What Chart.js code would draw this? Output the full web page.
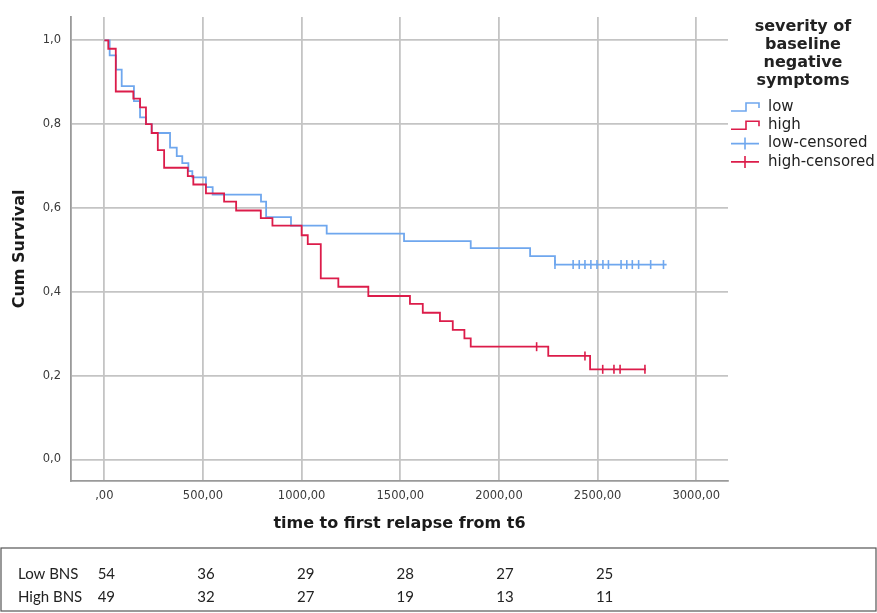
<!DOCTYPE html>
<html>
<head>
<meta charset="utf-8">
<script src="https://cdn.jsdelivr.net/npm/chart.js"></script>
<style>
  html, body { margin: 0; padding: 0; background: #fff; }
</style>
</head>
<body>
<canvas id="km" width="877" height="613"></canvas>
<script>
// Kaplan-Meier estimates
const lowTimes = [0, 27, 59, 88, 150, 181, 211, 240, 333, 367, 395, 426, 446, 515, 549, 794, 820, 946, 1127, 1519, 1857, 2158, 2284, 2850];
const lowSurv  = [1, .964, .930, .891, .855, .816, .800, .779, .744, .724, .707, .688, .673, .650, .632, .615, .578, .558, .539, .521, .504, .485, .465, .465];
const lowCensorTimes = [2284, 2376, 2407, 2436, 2466, 2497, 2527, 2555, 2619, 2648, 2676, 2708, 2769, 2834];
const lowCensorSurv  = [.465, .465, .465, .465, .465, .465, .465, .465, .465, .465, .465, .465, .465, .465];

const highTimes = [0, 20, 58, 147, 181, 211, 240, 271, 303, 423, 451, 515, 607, 668, 793, 852, 1000, 1031, 1097, 1186, 1338, 1549, 1614, 1701, 1766, 1825, 1857, 2250, 2462, 2745];
const highSurv  = [1, .980, .878, .861, .840, .800, .779, .738, .696, .676, .656, .635, .615, .594, .576, .558, .535, .514, .432, .412, .390, .371, .350, .330, .309, .289, .269, .247, .215, .215];
const highCensorTimes = [2191, 2436, 2526, 2583, 2614, 2740];
const highCensorSurv  = [.269, .247, .215, .215, .215, .215];

const xTickValues = [0, 500, 1000, 1500, 2000, 2500, 3000];
const yTickValues = [0, 0.2, 0.4, 0.6, 0.8, 1.0];

// numbers at risk
const riskTimes = [0, 500, 1000, 1500, 2000, 2500];
const riskLow  = [54, 36, 29, 28, 27, 25];
const riskHigh = [49, 32, 27, 19, 13, 11];

const legendTitle = ['severity of', 'baseline', 'negative', 'symptoms'];
const legendOrder = ['low', 'high', 'low-censored', 'high-censored'];

const BLUE = '#6fa7ee';
const RED = '#dc1c4a';
const GRID = '#c4c4c4';
const AXIS = '#9a9a9a';
const FONT = '"DejaVu Sans", sans-serif';

const pts = (xs, ys) => xs.map((t, i) => ({ x: t, y: ys[i] }));
const comma = (v, d) => v.toFixed(d).replace('.', ',');

const kmExtras = {
  id: 'kmExtras',
  afterDraw(chart) {
    const ctx = chart.ctx;
    ctx.save();

    // legend title
    ctx.fillStyle = '#222';
    ctx.textAlign = 'center';
    ctx.textBaseline = 'middle';
    ctx.font = 'bold 16px ' + FONT;
    legendTitle.forEach((line, i) => ctx.fillText(line, 803, 27 + i * 18));

    // legend entries
    ctx.font = '15px ' + FONT;
    ctx.textAlign = 'left';
    legendOrder.forEach((name, i) => {
      const ds = chart.data.datasets.find(d => d.label === name);
      const y = 107 + i * 18.3;
      ctx.strokeStyle = ds.borderColor || ds.pointBorderColor;
      ctx.lineWidth = 1.6;
      ctx.beginPath();
      if (ds.showLine === false) {
        ctx.moveTo(731, y); ctx.lineTo(759, y);
        ctx.moveTo(745, y - 6); ctx.lineTo(745, y + 6);
      } else {
        ctx.moveTo(731, y + 4); ctx.lineTo(746, y + 4); ctx.lineTo(746, y - 4);
        ctx.lineTo(759, y - 4); ctx.lineTo(759, y + 1);
      }
      ctx.stroke();
      ctx.fillStyle = '#222';
      ctx.fillText(name, 768, y);
    });

    // numbers-at-risk table
    ctx.strokeStyle = '#555';
    ctx.lineWidth = 1.2;
    ctx.strokeRect(1, 548, 875, 63);
    ctx.fillStyle = '#222';
    ctx.font = '15px Lato, sans-serif';
    ctx.textAlign = 'left';
    ctx.fillText('Low BNS', 18, 574);
    ctx.fillText('High BNS', 18, 597);
    ctx.textAlign = 'center';
    const xs = chart.scales.x;
    riskTimes.forEach((t, i) => {
      const px = xs.getPixelForValue(t) + 2 + i;
      ctx.fillText(String(riskLow[i]), px, 574);
      ctx.fillText(String(riskHigh[i]), px, 597);
    });
    ctx.restore();
  }
};

new Chart(document.getElementById('km').getContext('2d'), {
  type: 'line',
  data: {
    datasets: [
      {
        label: 'high', data: pts(highTimes, highSurv), stepped: true,
        borderColor: RED, borderWidth: 1.8, pointRadius: 0, fill: false, order: 1
      },
      {
        label: 'low', data: pts(lowTimes, lowSurv), stepped: true,
        borderColor: BLUE, borderWidth: 1.8, pointRadius: 0, fill: false, order: 2
      },
      {
        label: 'high-censored', data: pts(highCensorTimes, highCensorSurv), showLine: false,
        pointStyle: 'line', pointRotation: 90, pointRadius: 4.5, pointBorderWidth: 1.6,
        pointBorderColor: RED, borderColor: RED, order: 1
      },
      {
        label: 'low-censored', data: pts(lowCensorTimes, lowCensorSurv), showLine: false,
        pointStyle: 'line', pointRotation: 90, pointRadius: 4.5, pointBorderWidth: 1.6,
        pointBorderColor: BLUE, borderColor: BLUE, order: 2
      }
    ]
  },
  options: {
    responsive: false,
    animation: false,
    layout: { padding: { left: 0, right: 149, top: 8, bottom: 72 } },
    plugins: {
      legend: { display: false },
      tooltip: { enabled: false }
    },
    scales: {
      x: {
        type: 'linear', min: -169, max: 3161,
        afterBuildTicks: s => { s.ticks = xTickValues.map(v => ({ value: v })); },
        afterFit: s => { s.height = 60; },
        grid: { color: GRID, lineWidth: 1.8, drawTicks: false },
        border: { color: AXIS, width: 1.8 },
        ticks: {
          padding: 8, color: '#3a3a3a', maxRotation: 0,
          font: { family: FONT, size: 11.5 },
          callback: v => comma(v, 2).replace(/^0,/, ',')
        },
        title: {
          display: true, text: 'time to first relapse from t6', color: '#1a1a1a',
          font: { family: FONT, size: 16, weight: 'bold' }, padding: { top: 0, bottom: 8 }
        }
      },
      y: {
        type: 'linear', min: -0.0515, max: 1.056,
        afterBuildTicks: s => { s.ticks = yTickValues.map(v => ({ value: v })); },
        afterFit: s => { s.width = 71; },
        grid: { color: GRID, lineWidth: 1.8, drawTicks: false },
        border: { color: AXIS, width: 1.8 },
        ticks: {
          padding: 10, color: '#3a3a3a',
          font: { family: FONT, size: 11.5 },
          callback: v => comma(v, 1)
        },
        title: {
          display: true, text: 'Cum Survival', color: '#1a1a1a',
          font: { family: FONT, size: 16, weight: 'bold' }, padding: { top: 10, bottom: 0 }
        }
      }
    }
  },
  plugins: [kmExtras]
});
</script>
</body>
</html>
